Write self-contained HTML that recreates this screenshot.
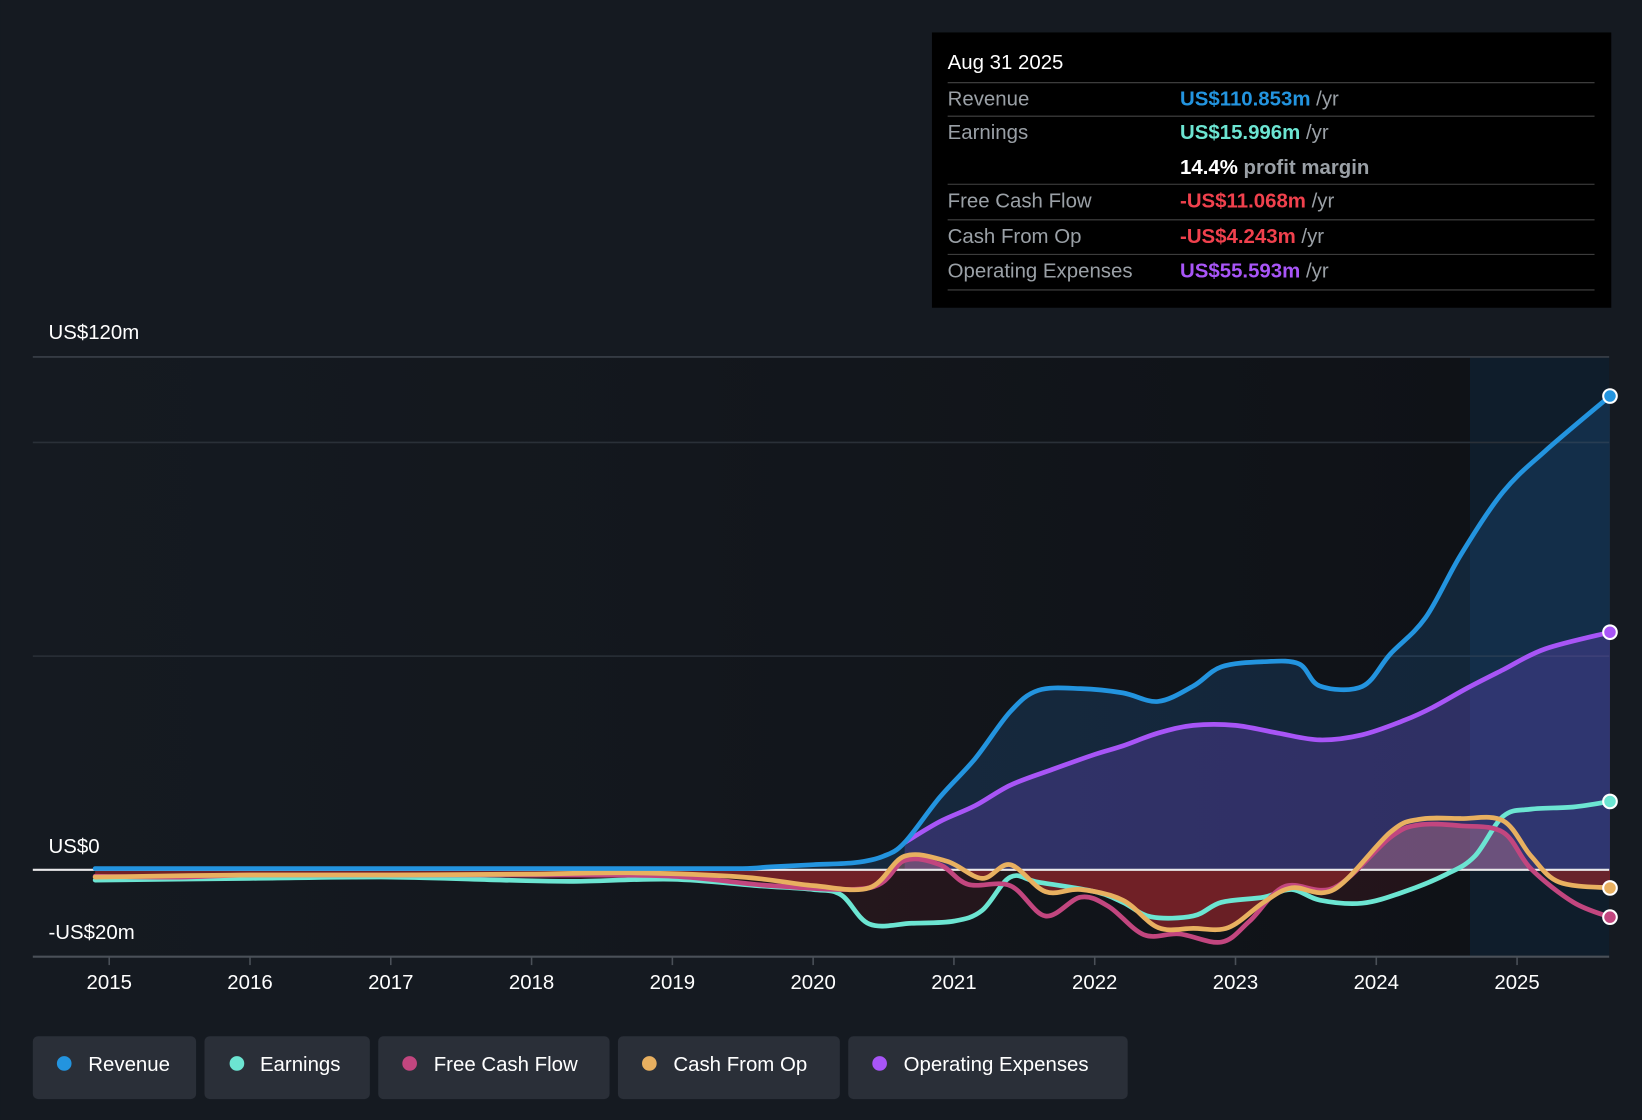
<!DOCTYPE html>
<html><head><meta charset="utf-8"><style>
html,body{margin:0;padding:0;background:#151a21;}
svg{display:block;font-family:"Liberation Sans",sans-serif;}
</style></head><body>
<svg id="chart" width="1642" height="1120" viewBox="0 0 1568 1070" xmlns="http://www.w3.org/2000/svg">
<defs>
<clipPath id="below"><rect x="0" y="831" width="1568" height="200"/></clipPath>
<clipPath id="above"><rect x="0" y="0" width="1568" height="831"/></clipPath>
<linearGradient id="plotbg" x1="0" x2="1" y1="0" y2="0">
<stop offset="0" stop-color="#151a21"/><stop offset="0.45" stop-color="#13171d"/><stop offset="1" stop-color="#0f1217"/></linearGradient>
</defs>
<rect x="0" y="0" width="1568" height="1070" fill="#151a21"/>
<rect x="31" y="341" width="1373" height="572" fill="url(#plotbg)"/>
<rect x="1404" y="341" width="133" height="572" fill="#0f1d2b"/>
<g id="grid"></g>
<g id="areas"></g>
<g id="lines"></g>
<g id="axis"></g>
<text x="46" y="324" fill="#fff" font-size="19.5">US$120m</text>
<text x="46" y="815" fill="#fff" font-size="19.5">US$0</text>
<text x="46" y="897" fill="#fff" font-size="19.5">-US$20m</text>
<g font-size="19.5">
<rect x="890" y="31" width="649" height="263" fill="#000"/>
<text x="905" y="66" fill="#fff">Aug 31 2025</text>
<line x1="905" x2="1523" y1="79" y2="79" stroke="#444"/>
<text x="905" y="101" fill="#9aa0a6">Revenue</text><text x="1127" y="101" fill="#2394df" font-weight="bold">US$110.853m <tspan fill="#9aa0a6" font-weight="normal">/yr</tspan></text>
<line x1="905" x2="1523" y1="111" y2="111" stroke="#444"/>
<text x="905" y="133" fill="#9aa0a6">Earnings</text><text x="1127" y="133" fill="#6ce5d2" font-weight="bold">US$15.996m <tspan fill="#9aa0a6" font-weight="normal">/yr</tspan></text>
<text x="1127" y="166" fill="#fff" font-weight="bold">14.4% <tspan fill="#9aa0a6">profit margin</tspan></text>
<line x1="905" x2="1523" y1="176" y2="176" stroke="#444"/>
<text x="905" y="198" fill="#9aa0a6">Free Cash Flow</text><text x="1127" y="198" fill="#f0414d" font-weight="bold">-US$11.068m <tspan fill="#9aa0a6" font-weight="normal">/yr</tspan></text>
<line x1="905" x2="1523" y1="210" y2="210" stroke="#444"/>
<text x="905" y="232" fill="#9aa0a6">Cash From Op</text><text x="1127" y="232" fill="#f0414d" font-weight="bold">-US$4.243m <tspan fill="#9aa0a6" font-weight="normal">/yr</tspan></text>
<line x1="905" x2="1523" y1="243" y2="243" stroke="#444"/>
<text x="905" y="265" fill="#9aa0a6">Operating Expenses</text><text x="1127" y="265" fill="#a855f7" font-weight="bold">US$55.593m <tspan fill="#9aa0a6" font-weight="normal">/yr</tspan></text>
<line x1="905" x2="1523" y1="277" y2="277" stroke="#444"/>
</g>
<g font-size="19.5" fill="#fff">
<g><rect x="31" y="990" width="156" height="60" rx="5" fill="#2a2f38"/><circle cx="61" cy="1016" r="7" fill="#2394df"/><text x="84" y="1023" fill="#fff">Revenue</text></g>
<g><rect x="195" y="990" width="158" height="60" rx="5" fill="#2a2f38"/><circle cx="226" cy="1016" r="7" fill="#6ce5d2"/><text x="248" y="1023" fill="#fff">Earnings</text></g>
<g><rect x="361" y="990" width="221" height="60" rx="5" fill="#2a2f38"/><circle cx="391" cy="1016" r="7" fill="#c2467f"/><text x="414" y="1023" fill="#fff">Free Cash Flow</text></g>
<g><rect x="590" y="990" width="212" height="60" rx="5" fill="#2a2f38"/><circle cx="620" cy="1016" r="7" fill="#e8b060"/><text x="643" y="1023" fill="#fff">Cash From Op</text></g>
<g><rect x="810" y="990" width="267" height="60" rx="5" fill="#2a2f38"/><circle cx="840" cy="1016" r="7" fill="#a855f7"/><text x="863" y="1023" fill="#fff">Operating Expenses</text></g>
</g>
</svg>
<script>
const years = [2015,2016,2017,2018,2019,2020,2021,2022,2023,2024,2025];
const revT = [2014.9,2016,2017,2018,2019,2019.5,2019.7,2020.0,2020.3,2020.5,2020.65,2020.9,2021.15,2021.4,2021.6,2021.9,2022.2,2022.45,2022.7,2022.9,2023.2,2023.45,2023.6,2023.9,2024.1,2024.35,2024.6,2024.9,2025.2,2025.66];
const revV = [0.3,0.3,0.3,0.3,0.3,0.3,0.7,1.2,1.7,3.2,6.4,17,26,37,42,42.4,41.4,39.4,43,47.5,48.7,48.2,43,42.9,50.5,59,73.7,88.4,98,110.85];
const opxT = [2020.65,2020.9,2021.15,2021.4,2021.7,2022.0,2022.2,2022.45,2022.7,2023.0,2023.3,2023.6,2023.9,2024.2,2024.4,2024.65,2024.9,2025.2,2025.66];
const opxV = [6.4,11.3,15,19.8,23.5,27,29,32,33.8,33.8,32,30.4,31.6,35,38,42.6,46.8,51.7,55.59];
const earT = [2014.9,2016,2017,2017.8,2018.3,2019,2019.6,2020,2020.2,2020.4,2020.7,2021.0,2021.2,2021.4,2021.6,2022.0,2022.2,2022.4,2022.7,2022.9,2023.2,2023.4,2023.6,2023.9,2024.2,2024.5,2024.7,2024.9,2025.1,2025.4,2025.66];
const earV = [-2.4,-2,-1.7,-2.4,-2.7,-2.2,-3.7,-4.6,-5.9,-12.7,-12.5,-12,-9.5,-1.7,-2.9,-5.1,-7.6,-11,-10.8,-7.6,-6.4,-4.6,-7.1,-7.8,-5.1,-1,3.2,12.5,14.2,14.7,16];
const fcfT = [2014.9,2015.5,2016,2017,2018,2019,2019.7,2020.4,2020.65,2020.9,2021.1,2021.4,2021.65,2021.9,2022.1,2022.35,2022.6,2022.9,2023.1,2023.35,2023.7,2024.1,2024.3,2024.6,2024.9,2025.1,2025.4,2025.66];
const fcfV = [-1.5,-1.7,-1.2,-1.2,-1.2,-1.5,-3.7,-4.2,2.2,1.2,-3.4,-3.7,-10.8,-6.4,-8.6,-15.2,-15,-16.9,-12,-3.9,-4.2,7.6,10.5,10.3,8.8,0.2,-7.6,-11.07];
const cfoT = [2014.9,2016,2017,2018,2018.7,2019.5,2020.0,2020.4,2020.65,2020.95,2021.2,2021.4,2021.65,2021.9,2022.2,2022.45,2022.7,2022.95,2023.2,2023.4,2023.7,2024.1,2024.3,2024.6,2024.9,2025.1,2025.3,2025.66];
const cfoV = [-1.7,-1.2,-1.2,-1,-0.7,-1.7,-3.7,-4.2,3.2,2,-2,1.2,-5.1,-4.6,-7.1,-13.5,-13.7,-13.5,-7.6,-4.2,-4.6,8.8,11.8,12,11.5,3.2,-2.9,-4.24];
const gridVals = [120,100,50];

const NS='http://www.w3.org/2000/svg';
function xS(t){return 104+(t-2015)*134.5;}
function yS(v){return 831-v*(490/120);}
function mk(tag,attrs,parent){const e=document.createElementNS(NS,tag);for(const k in attrs)e.setAttribute(k,attrs[k]);parent.appendChild(e);return e;}
function pathD(T,V){
  const p=T.map((t,i)=>[xS(t),yS(V[i])]);
  let d='M'+p[0][0]+','+p[0][1];
  for(let i=0;i<p.length-1;i++){
    const p0=p[Math.max(0,i-1)],p1=p[i],p2=p[i+1],p3=p[Math.min(p.length-1,i+2)];
    const c1x=p1[0]+(p2[0]-p0[0])/6,c1y=p1[1]+(p2[1]-p0[1])/6;
    const c2x=p2[0]-(p3[0]-p1[0])/6,c2y=p2[1]-(p3[1]-p1[1])/6;
    d+=' C'+c1x+','+c1y+' '+c2x+','+c2y+' '+p2[0]+','+p2[1];
  }
  return d;
}
function areaD(T,V){return pathD(T,V)+' L'+xS(T[T.length-1])+','+yS(0)+' L'+xS(T[0])+','+yS(0)+' Z';}
const grid=document.getElementById('grid'),areas=document.getElementById('areas'),lines=document.getElementById('lines'),axis=document.getElementById('axis');
gridVals.forEach(v=>{
  const l=mk('line',{x1:31,x2:1537,y1:yS(v),y2:yS(v),stroke:v===120?'#3a4049':'#2a3038','stroke-width':1.5},grid);
  
  
});
const a1=mk('path',{d:areaD(revT,revV),fill:'rgba(35,110,180,0.22)'},areas);


const a2=mk('path',{d:areaD(opxT,opxV),fill:'rgba(130,80,230,0.25)'},areas);


const a5=mk('path',{d:areaD(earT,earV),fill:'rgba(60,25,30,0.45)','clip-path':'url(#below)'},areas);


const a3=mk('path',{d:areaD(cfoT,cfoV),fill:'rgba(160,38,45,0.62)','clip-path':'url(#below)'},areas);


const a4=mk('path',{d:areaD(fcfT,fcfV),fill:'rgba(235,140,150,0.32)','clip-path':'url(#above)'},areas);


const zl=mk('line',{x1:31,x2:1537,y1:yS(0),y2:yS(0),stroke:'#e8e8ea','stroke-width':2},areas);


const series=[['earnings-line',earT,earV,'#6ce5d2'],['free-cash-flow-line',fcfT,fcfV,'#c2467f'],['cash-from-op-line',cfoT,cfoV,'#e8b060'],['opex-line',opxT,opxV,'#a855f7'],['revenue-line',revT,revV,'#2394df']];
series.forEach(s=>{
  const p=mk('path',{d:pathD(s[1],s[2]),fill:'none',stroke:s[3],'stroke-width':4.5,'stroke-linejoin':'round','stroke-linecap':'round'},lines);
  
  
  const n=s[1].length-1;
  const c=mk('circle',{cx:xS(s[1][n]),cy:yS(s[2][n]),r:6.5,fill:s[3],stroke:'#fff','stroke-width':2},lines);
  
  
});
const ax=mk('line',{x1:31,x2:1537,y1:914,y2:914,stroke:'#4a5058','stroke-width':2},axis);


years.forEach(y=>{
  mk('line',{x1:xS(y),x2:xS(y),y1:914,y2:922,stroke:'#4a5058','stroke-width':1.5},axis);
  const t=mk('text',{x:xS(y),y:945,fill:'#fff','font-size':19.5,'text-anchor':'middle'},axis);
  t.textContent=y;
  
  
});
</script>
</body></html>
